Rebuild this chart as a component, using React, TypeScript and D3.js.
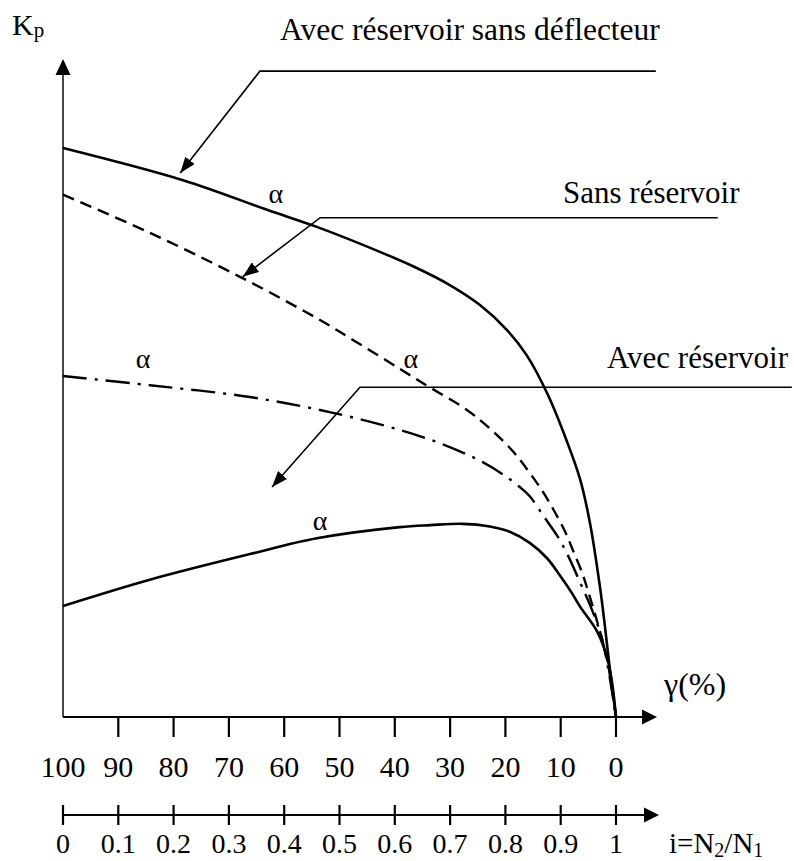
import React from "react";
import * as d3 from "d3";

// γ (%) axis ticks and the i = N2/N1 axis ticks
const gammaTicks = [100, 90, 80, 70, 60, 50, 40, 30, 20, 10, 0];
const ratioTicks = [0, 0.1, 0.2, 0.3, 0.4, 0.5, 0.6, 0.7, 0.8, 0.9, 1];

// curves: [γ (%), Kp] — Kp in arbitrary units (axis 0..10)
// avec réservoir sans déflecteur (solid, top)
const sansDeflecteur: [number, number][] = [
  [100, 8.66], [78.3, 8.17], [63.1, 7.72], [54.1, 7.46], [42.7, 7.08],
  [36.7, 6.86], [30.6, 6.6], [24.6, 6.27], [19.7, 5.89], [16.1, 5.5],
  [12.3, 4.9], [8.9, 4.2], [6.5, 3.62], [4.7, 2.95], [2.9, 1.98],
  [2.0, 1.38], [1.1, 0.72], [0, 0],
];
// sans réservoir (dashed)
const sansReservoir: [number, number][] = [
  [100, 7.95], [84.3, 7.37], [68, 6.7], [54.1, 6.07], [47.2, 5.72],
  [39.1, 5.3], [34.9, 5.08], [26.9, 4.67], [22.4, 4.36], [18.6, 4.04],
  [15.9, 3.75], [13.4, 3.45], [11.4, 3.17], [9.2, 2.82], [7.8, 2.54],
  [6.1, 2.19], [5.1, 1.93], [3.4, 1.45], [1.6, 0.87], [0, 0],
];
// avec réservoir (dash-dot)
const avecReservoir: [number, number][] = [
  [100, 5.19], [84.3, 5.05], [66.2, 4.87], [51.2, 4.63], [39.1, 4.37],
  [31.3, 4.15], [24.1, 3.88], [20.4, 3.69], [17.4, 3.5], [15.6, 3.36],
  [13.2, 3.07], [10.5, 2.74], [8.7, 2.46], [6.5, 2.05], [4.2, 1.6],
  [2.4, 1.15], [0, 0],
];
// avec réservoir (solid, bottom)
const avecReservoirBas: [number, number][] = [
  [100, 1.69], [84.3, 2.09], [66.2, 2.48], [54.1, 2.72], [39.1, 2.89],
  [33.6, 2.92], [27.7, 2.94], [22.8, 2.9], [19.2, 2.82], [15.6, 2.65],
  [12.5, 2.42], [10.1, 2.15], [8.0, 1.89], [6.5, 1.68], [3.4, 1.3],
  [1.6, 0.9], [0.7, 0.52], [0, 0],
];

// α marks along the curves
const alphaMarks: [number, number][] = [
  [61.5, 7.82], [85.5, 5.31], [37.1, 5.31], [53.5, 2.85],
];

// leader lines (right end, elbow, arrow tip) and their labels
const leaders = [
  { label: "Avec réservoir sans déflecteur", pts: [[-7.2, 9.83], [64.4, 9.83], [78.8, 8.28]] },
  { label: "Sans réservoir", pts: [[-18.4, 7.6], [53.5, 7.6], [67.5, 6.7]] },
  { label: "Avec réservoir", pts: [[-31.8, 5.02], [46.3, 5.02], [62.2, 3.5]] },
];
const labelPos = [
  [280, 40],
  [563, 203],
  [607, 368],
];

export default function App() {
  const width = 794;
  const height = 861;
  const axisY = 717;
  const axis2Y = 815;

  const x = d3.scaleLinear().domain([100, 0]).range([63, 616]);
  const xi = d3.scaleLinear().domain([0, 1]).range([63, 616]);
  const y = d3.scaleLinear().domain([0, 10]).range([axisY, 60]);

  const line = d3
    .line<[number, number]>()
    .x((d) => x(d[0]))
    .y((d) => y(d[1]))
    .curve(d3.curveCatmullRom.alpha(0.5));

  const leaderLine = d3
    .line<number[]>()
    .x((d) => x(d[0]))
    .y((d) => y(d[1]));

  const font = { fontFamily: "'Liberation Serif', 'DejaVu Serif', serif" };

  return (
    <div style={{ position: "absolute", left: 0, top: 0 }}>
      <svg width={width} height={height} style={{ display: "block", background: "#fff" }}>
        <defs>
          <marker
            id="head"
            markerUnits="userSpaceOnUse"
            viewBox="0 0 16 12"
            refX={16}
            refY={6}
            markerWidth={16}
            markerHeight={12}
            orient="auto"
          >
            <path d="M0,0L16,6L0,12Z" fill="#000" />
          </marker>
        </defs>

        {/* y axis (Kp) */}
        <line x1={x(100)} y1={axisY} x2={x(100)} y2={74} stroke="#333" strokeWidth={1.8} />
        <path d={`M${x(100)},59L${x(100) - 7.5},75L${x(100) + 7.5},75Z`} fill="#000" />
        <text x={12} y={35} style={font} fontSize={30}>
          K<tspan fontSize={21} dy={2}>p</tspan>
        </text>

        {/* γ axis */}
        <line x1={x(100)} y1={axisY} x2={643} y2={axisY} stroke="#000" strokeWidth={2} />
        <path d={`M657,${axisY}L642,${axisY - 7.5}L642,${axisY + 7.5}Z`} fill="#000" />
        {gammaTicks.slice(1).map((t) => (
          <line key={t} x1={x(t)} x2={x(t)} y1={axisY} y2={axisY + 20} stroke="#000" strokeWidth={2.2} />
        ))}
        {gammaTicks.map((t) => (
          <text key={t} x={x(t)} y={777} textAnchor="middle" style={font} fontSize={30}>
            {t}
          </text>
        ))}
        <text x={664} y={695} style={font} fontSize={32}>
          γ(%)
        </text>

        {/* i = N2/N1 axis */}
        <line x1={xi(0)} y1={axis2Y} x2={645} y2={axis2Y} stroke="#000" strokeWidth={2} />
        <path d={`M659,${axis2Y}L644,${axis2Y - 7.5}L644,${axis2Y + 7.5}Z`} fill="#000" />
        {ratioTicks.map((t) => (
          <line key={t} x1={xi(t)} x2={xi(t)} y1={axis2Y - 10} y2={axis2Y + 10} stroke="#000" strokeWidth={2.2} />
        ))}
        {ratioTicks.map((t) => (
          <text key={t} x={xi(t)} y={853} textAnchor="middle" style={font} fontSize={28}>
            {String(t)}
          </text>
        ))}
        <text x={669} y={853} style={font} fontSize={29}>
          i=N<tspan fontSize={20} dy={4}>2</tspan>
          <tspan dy={-4}>/N</tspan>
          <tspan fontSize={20} dy={4}>1</tspan>
        </text>

        {/* curves */}
        <path d={line(sansDeflecteur) ?? ""} fill="none" stroke="#000" strokeWidth={2.6} />
        <path d={line(sansReservoir) ?? ""} fill="none" stroke="#000" strokeWidth={2.4} strokeDasharray="12,7" />
        <path d={line(avecReservoir) ?? ""} fill="none" stroke="#000" strokeWidth={2.4} strokeDasharray="24,8,3,8" />
        <path d={line(avecReservoirBas) ?? ""} fill="none" stroke="#000" strokeWidth={2.6} />

        {alphaMarks.map((d, i) => (
          <text key={i} x={x(d[0])} y={y(d[1])} textAnchor="middle" style={font} fontSize={28}>
            α
          </text>
        ))}

        {/* leader lines with labels */}
        {leaders.map((l, i) => (
          <g key={l.label}>
            <path d={leaderLine(l.pts) ?? ""} fill="none" stroke="#000" strokeWidth={1.6} markerEnd="url(#head)" />
            <text x={labelPos[i][0]} y={labelPos[i][1]} style={font} fontSize={i === 0 ? 31.5 : 31}>
              {l.label}
            </text>
          </g>
        ))}
      </svg>
    </div>
  );
}
